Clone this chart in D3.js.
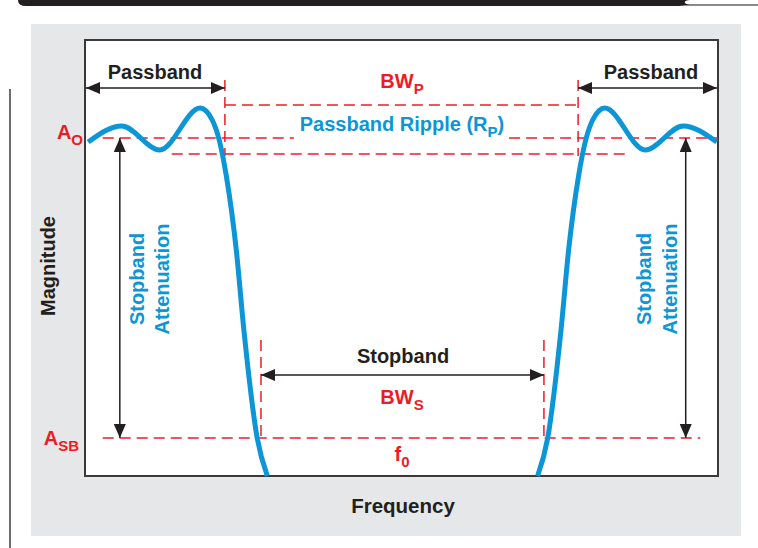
<!DOCTYPE html>
<html>
<head>
<meta charset="utf-8">
<script src="https://cdn.jsdelivr.net/npm/d3@7"></script>
<style>
  body { margin: 0; background: #fff; }
  svg text { font-family: "Liberation Sans", Arial, Helvetica, sans-serif; font-weight: bold; }
</style>
</head>
<body>
<div id="chart"></div>
<script>
// response curve (normalised frequency 0-100, magnitude in dB relative to A_O)
const lowFreq = [0.5, 5.8, 11.8, 18.2, 20.1, 21.2, 22.3, 23.9, 25.1, 27.2, 28.8];
const lowMag = [-0.8, 2.4, -2.4, 6.0, 3.6, -0.4, -7.4, -22.4, -38.4, -60, -67.6];
const highFreq = [71.5, 73.1, 75.2, 76.4, 78.0, 79.1, 80.2, 82.1, 88.5, 94.5, 99.8];
const highMag = [-67.6, -60, -38.4, -22.4, -7.4, -0.4, 3.6, 6.0, -2.4, 2.4, -0.8];

// reference levels and band edges
const levelAO = 0;
const levelSB = -60;
const rippleTop = 6.6;
const rippleBottom = -3.2;
const passEdges = [22.1, 77.9];
const stopEdges = [27.8, 72.5];

const width = 758, height = 548;
const box = {left: 85, right: 718, top: 40, bottom: 476};

const red = "#ed1c24", blue = "#0c96d7", ink = "#231f20";

const svg = d3.select("#chart").append("svg")
    .attr("width", width)
    .attr("height", height);

const x = d3.scaleLinear().domain([0, 100]).range([box.left, box.right]);
const y = d3.scaleLinear().domain([-67.6, 19.6]).range([box.bottom, box.top]);

// page decoration: top rule and side line
svg.append("path")
    .attr("d", "M18,0 L690,0 C684,0 682,4 690,4.5 L758,4.5 L758,5.5 L688,5.5 C680,5.5 684,6 676,6 L26,6 Q18,6 18,0 Z")
    .attr("fill", ink);
svg.append("rect").attr("x", 690).attr("y", 4).attr("width", 68).attr("height", 1.5).attr("fill", "#888");
svg.append("line")
    .attr("x1", 10).attr("x2", 10).attr("y1", 89).attr("y2", 548)
    .attr("stroke", "#6d6e70").attr("stroke-width", 2);

// grey panel + plot box
svg.append("rect")
    .attr("x", 31).attr("y", 24).attr("width", 710).attr("height", 512)
    .attr("fill", "#e6e7e8");
svg.append("rect")
    .attr("x", box.left).attr("y", box.top)
    .attr("width", box.right - box.left).attr("height", box.bottom - box.top)
    .attr("fill", "#fff").attr("stroke", "#3a3a3a").attr("stroke-width", 2);

// arrow markers
const defs = svg.append("defs");
function marker(id, d) {
    defs.append("marker")
        .attr("id", id)
        .attr("viewBox", "0 0 14 12")
        .attr("refX", 14).attr("refY", 6)
        .attr("markerUnits", "userSpaceOnUse")
        .attr("markerWidth", 14).attr("markerHeight", 12)
        .attr("orient", "auto-start-reverse")
      .append("path").attr("d", d).attr("fill", ink);
}
marker("arrow", "M0,0 L14,6 L0,12 Z");

function arrow(x1, y1, x2, y2) {
    svg.append("line")
        .attr("x1", x1).attr("y1", y1).attr("x2", x2).attr("y2", y2)
        .attr("stroke", ink).attr("stroke-width", 1.5)
        .attr("marker-start", "url(#arrow)")
        .attr("marker-end", "url(#arrow)");
}

// red dashed guides
function dash(x1, y1, x2, y2) {
    svg.append("line")
        .attr("x1", x1).attr("y1", y1).attr("x2", x2).attr("y2", y2)
        .attr("stroke", red).attr("stroke-width", 1.5)
        .attr("stroke-dasharray", "11,6");
}
dash(x(passEdges[0]), y(rippleTop), x(passEdges[1]), y(rippleTop));
dash(x(2.8), y(levelAO), x(33), y(levelAO));
dash(x(67), y(levelAO), box.right, y(levelAO));
dash(x(13.7), y(rippleBottom), x(86.2), y(rippleBottom));
dash(x(2.8), y(levelSB), x(97.2), y(levelSB));
passEdges.forEach(f => dash(x(f), 80, x(f), y(rippleBottom) + 2));
stopEdges.forEach(f => dash(x(f), 340, x(f), y(levelSB)));

// black dimension arrows
arrow(box.left + 1, 88, x(passEdges[0]), 88);
arrow(x(passEdges[1]), 88, box.right - 1, 88);
arrow(x(stopEdges[0]), 375, x(stopEdges[1]), 375);
arrow(x(5.5), y(levelAO), x(5.5), y(levelSB));
arrow(x(94.9), y(levelAO), x(94.9), y(levelSB));

// response curve
const line = d3.line()
    .x(d => x(d[0]))
    .y(d => y(d[1]))
    .curve(d3.curveMonotoneX);
[d3.zip(lowFreq, lowMag), d3.zip(highFreq, highMag)].forEach(pts => {
    svg.append("path")
        .attr("d", line(pts))
        .attr("fill", "none")
        .attr("stroke", blue)
        .attr("stroke-width", 5)
        .attr("stroke-linecap", "butt");
});

// labels
function label(tx, ty, str, color, size, anchor, sub, subSize) {
    const t = svg.append("text")
        .attr("x", tx).attr("y", ty)
        .attr("fill", color)
        .attr("font-size", size)
        .attr("text-anchor", anchor || "middle");
    t.append("tspan").text(str);
    if (sub) {
        t.append("tspan").attr("dy", 6).attr("font-size", subSize || 15).text(sub);
    }
    return t;
}
label(155, 79, "Passband", ink, 20);
label(651, 79, "Passband", ink, 20);
label(402, 88, "BW", red, 20, "middle", "P");
const rip = label(402, 131, "Passband Ripple (R", blue, 20);
rip.append("tspan").attr("dy", 6).attr("font-size", 15).text("P");
rip.append("tspan").attr("dy", -6).text(")");
label(403, 363, "Stopband", ink, 20);
label(402, 404, "BW", red, 20, "middle", "S");
label(402, 461, "f", red, 20, "middle", "0");
label(403, 513, "Frequency", ink, 20.5);
label(83, 139, "A", red, 20, "end", "O", 15);
label(79, 445, "A", red, 20, "end", "SB", 15);

function vlabel(cx, cy, str, color) {
    svg.append("text")
        .attr("transform", `translate(${cx},${cy}) rotate(-90)`)
        .attr("fill", color)
        .attr("font-size", 20)
        .attr("text-anchor", "middle")
        .text(str);
}
vlabel(55, 266, "Magnitude", ink);
vlabel(144, 279, "Stopband", blue);
vlabel(169, 279, "Attenuation", blue);
vlabel(651, 279, "Stopband", blue);
vlabel(677, 279, "Attenuation", blue);
</script>
</body>
</html>
